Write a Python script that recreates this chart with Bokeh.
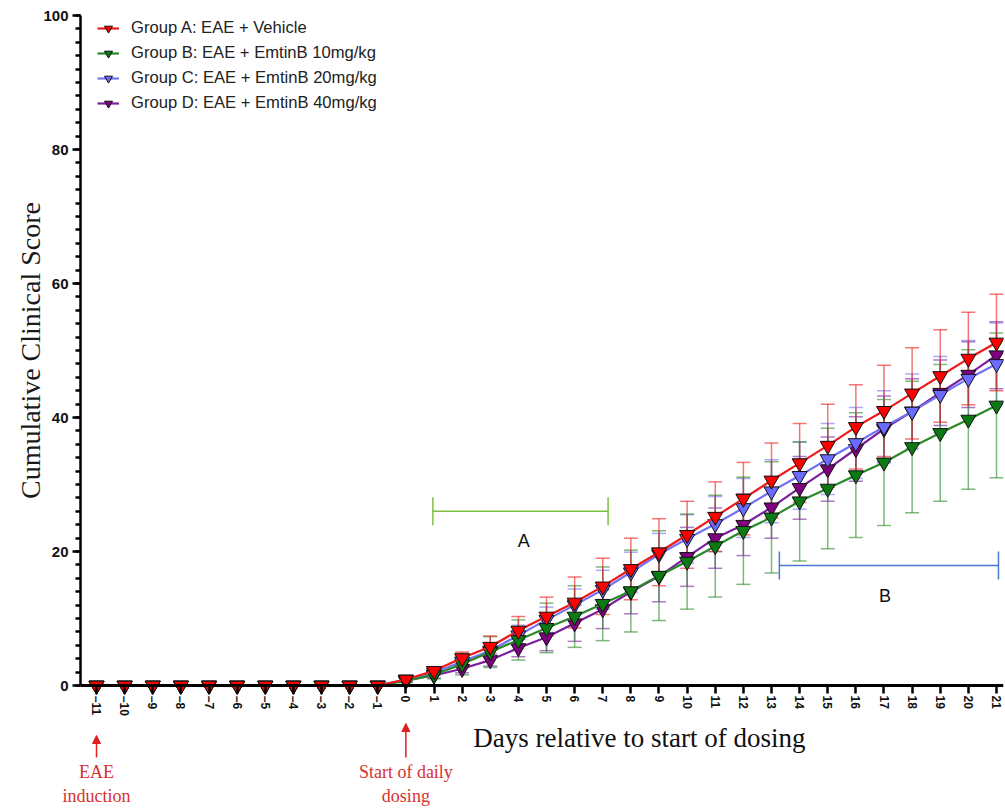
import math
from bokeh.plotting import figure
from bokeh.models import (ColumnDataSource, Whisker, TeeHead, Arrow, NormalHead, Label,
                          Legend, LegendItem, FixedTicker, SingleIntervalTicker, Range1d)
from bokeh.embed import file_html
from bokeh.resources import INLINE

# ---------------- data ----------------
days = list(range(-11, 22))
pre = [0.0] * 11
pre_sem = [0.0] * 11

group_names = ["Group A: EAE + Vehicle",
               "Group B: EAE + EmtinB 10mg/kg",
               "Group C: EAE + EmtinB 20mg/kg",
               "Group D: EAE + EmtinB 40mg/kg"]

a_mean = pre + [0.9, 2.2, 4.1, 5.8, 8.2, 10.3, 12.4, 14.8, 17.4, 19.9, 22.5, 25.2, 27.9, 30.6, 33.2, 35.8, 38.6, 41.0, 43.6, 46.2, 48.8, 51.2]
a_sem = pre_sem + [0.3, 0.5, 0.9, 1.6, 2.1, 2.9, 3.8, 4.2, 4.6, 5.0, 5.0, 5.2, 5.4, 5.6, 5.9, 6.2, 6.3, 6.8, 6.8, 6.9, 6.9, 7.2]

b_mean = pre + [0.7, 1.6, 3.2, 5.0, 6.8, 8.6, 10.3, 12.2, 14.1, 16.4, 18.5, 20.8, 23.1, 25.1, 27.5, 29.4, 31.4, 33.3, 35.6, 37.7, 39.7, 41.8]
b_sem = pre_sem + [0.3, 0.6, 1.6, 2.3, 3.0, 3.7, 4.6, 5.5, 6.1, 6.7, 7.1, 7.6, 8.0, 8.3, 8.9, 9.0, 9.3, 9.4, 9.8, 10.2, 10.4, 10.8]

c_mean = pre + [0.9, 1.9, 3.6, 5.2, 7.5, 9.8, 12.0, 14.3, 16.9, 19.6, 21.9, 24.1, 26.5, 29.0, 31.3, 33.8, 36.2, 38.6, 40.9, 43.4, 45.8, 48.0]
c_sem = pre_sem + [0.3, 0.4, 0.6, 0.8, 1.5, 1.9, 2.4, 2.9, 3.0, 3.1, 3.6, 4.1, 4.4, 4.7, 5.0, 5.3, 5.3, 5.4, 5.6, 5.7, 5.7, 6.1]

d_mean = pre + [0.8, 1.5, 2.5, 3.8, 5.6, 7.2, 9.3, 11.4, 14.0, 16.3, 19.2, 22.0, 24.0, 26.6, 29.5, 32.3, 35.3, 38.3, 40.9, 43.7, 46.4, 49.3]
d_sem = pre_sem + [0.3, 0.4, 0.6, 0.9, 1.3, 2.0, 2.7, 2.9, 3.3, 3.8, 4.4, 4.5, 4.6, 4.6, 4.7, 4.8, 4.8, 4.9, 4.9, 4.9, 4.9, 5.0]

bracket_labels = ["A", "B"]
bracket_start = [0.96, 13.28]
bracket_end = [7.19, 21.07]
bracket_level = [26.0, 17.9]
bracket_label_x = [4.19, 17.04]
bracket_label_y = [21.5, 13.4]

event_days = [-11, 0]
event_text = ["EAE\ninduction", "Start of daily\ndosing"]
event_arrow_tail = [-10.75, -10.75]
event_arrow_head = [-7.46, -5.67]

y_label = "Cumulative Clinical Score"
x_label = "Days relative to start of dosing"
y_ticks_interval = 20

# ---------------- styles ----------------
fills = ["#ff0000", "#0b7a12", "#6b6bff", "#800080"]
lines = ["#ee1a1a", "#2a8a2a", "#7272f2", "#7a1f9e"]

SERIF = "Liberation Serif"
SANS = "Liberation Sans"

p = figure(frame_width=923, frame_height=770,
           x_range=Range1d(-11.569, 21.249), y_range=Range1d(-12.68, 102.24),
           output_backend="svg", toolbar_location=None,
           min_border_left=80, min_border_right=2, min_border_top=0, min_border_bottom=0)
p.outline_line_color = None
p.grid.visible = False
p.background_fill_color = "white"

means = [a_mean, b_mean, c_mean, d_mean]
sems = [a_sem, b_sem, c_sem, d_sem]

renderers = {}
for gi in [3, 2, 1, 0]:
    m = means[gi]
    s = sems[gi]
    wx = [d for d, e in zip(days, s) if e > 0]
    wl = [v - e for v, e in zip(m, s) if e > 0]
    wu = [v + e for v, e in zip(m, s) if e > 0]
    wsrc = ColumnDataSource(dict(x=wx, lower=wl, upper=wu))
    w = Whisker(base="x", lower="lower", upper="upper", source=wsrc,
                line_color=lines[gi], line_alpha=0.6, line_width=1.5,
                upper_head=TeeHead(size=14, line_color=lines[gi], line_alpha=0.6, line_width=1.5),
                lower_head=TeeHead(size=14, line_color=lines[gi], line_alpha=0.6, line_width=1.5))
    p.add_layout(w)
for gi in [3, 2, 1, 0]:
    src = ColumnDataSource(dict(x=days, y=means[gi]))
    ln = p.line("x", "y", source=src, line_color=lines[gi], line_width=2.2)
    sc = p.scatter("x", "y", source=src, marker="inverted_triangle", size=15,
                   fill_color=fills[gi], line_color="#111111", line_width=1)
    renderers[gi] = [ln, sc]

legend = Legend(items=[LegendItem(label=group_names[i], renderers=renderers[i]) for i in range(4)],
                location=(17, 657), margin=0, padding=0, spacing=5,
                label_height=20, glyph_height=20, glyph_width=22, label_standoff=12,
                label_text_font=SANS, label_text_font_size="16.6px", label_text_color="#222222",
                border_line_color=None, background_fill_alpha=0)
p.add_layout(legend)

# brackets
bcol = ["#7cc043", "#4a78d0"]
for i in range(2):
    src = ColumnDataSource(dict(y=[bracket_level[i]], x0=[bracket_start[i]], x1=[bracket_end[i]]))
    p.add_layout(Whisker(base="y", lower="x0", upper="x1", dimension="width", source=src,
                         line_color=bcol[i], line_width=1.5,
                         upper_head=TeeHead(size=28, line_color=bcol[i], line_width=1.5),
                         lower_head=TeeHead(size=28, line_color=bcol[i], line_width=1.5)))
    p.add_layout(Label(x=bracket_label_x[i], y=bracket_label_y[i], text=bracket_labels[i],
                       text_align="center", text_baseline="middle",
                       text_font=SANS, text_font_size="18px", text_color="#111111"))

# axes
yax = p.yaxis[0]
yax.ticker = SingleIntervalTicker(interval=y_ticks_interval, num_minor_ticks=10)
yax.bounds = (0, 100)
yax.axis_line_width = 2.5
yax.axis_line_color = "black"
yax.major_tick_line_width = 2.5
yax.minor_tick_line_width = 2.5
yax.major_tick_out = 8
yax.major_tick_in = 0
yax.minor_tick_out = 5
yax.minor_tick_in = 0
yax.major_label_text_font = SANS
yax.major_label_text_font_style = "bold"
yax.major_label_text_font_size = "15px"
yax.major_label_text_color = "#111111"
yax.major_label_standoff = 4

xax = p.xaxis[0]
xax.fixed_location = 0
xax.ticker = FixedTicker(ticks=days)
xax.axis_line_width = 3
xax.axis_line_color = "black"
xax.major_tick_line_width = 2.5
xax.major_tick_out = 8
xax.major_tick_in = 0
xax.minor_tick_out = 0
xax.minor_tick_in = 0
xax.major_label_orientation = -math.pi / 2
xax.major_label_text_font = SANS
xax.major_label_text_font_style = "bold"
xax.major_label_text_font_size = "12px"
xax.major_label_text_color = "#111111"
xax.major_label_standoff = 2

p.add_layout(Label(x=8.3, y=-7.9, text=x_label,
                   text_align="center", text_baseline="middle",
                   text_font=SERIF, text_font_size="27px", text_color="#111111"))

p.add_layout(Label(x=-13.336, y=50, text=y_label, angle=math.pi / 2,
                   text_align="center", text_baseline="middle",
                   text_font=SERIF, text_font_size="28px", text_color="#1a1a1a"), "left")

for i in range(2):
    p.add_layout(Arrow(x_start=event_days[i], y_start=event_arrow_tail[i],
                       x_end=event_days[i], y_end=event_arrow_head[i],
                       line_color="#e02020", line_width=1.5,
                       end=NormalHead(size=8, fill_color="#e02020", line_color="#e02020")))
    p.add_layout(Label(x=event_days[i], y=-14.75, text=event_text[i],
                       text_align="center", text_baseline="middle",
                       text_font=SERIF, text_font_size="18px", text_color="#d93030"), "below")

open("out.html", "w").write(file_html(p, INLINE))
